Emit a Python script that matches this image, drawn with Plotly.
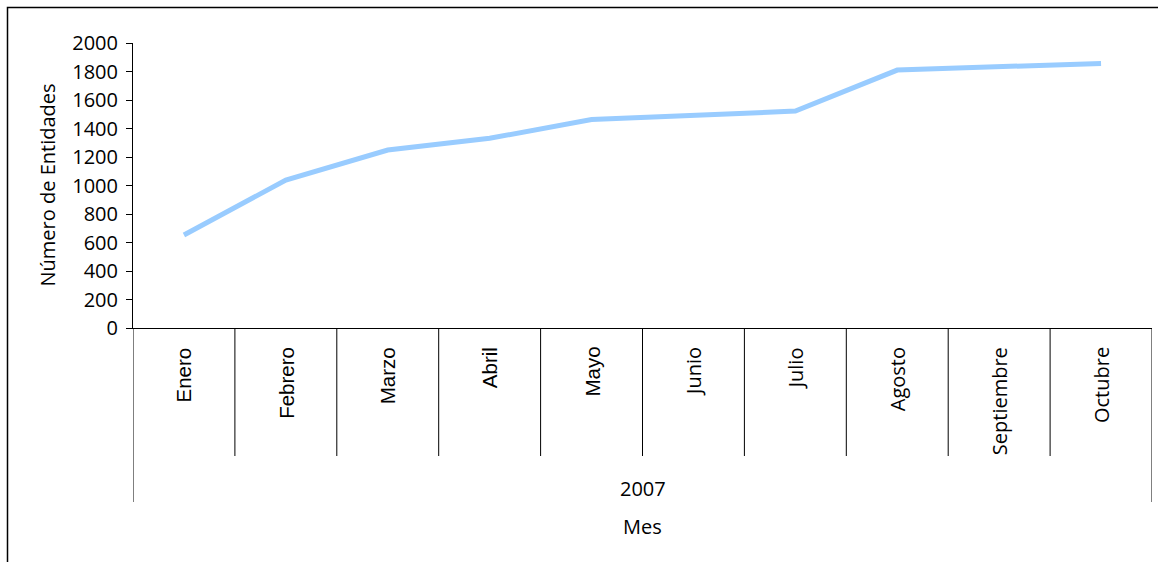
import plotly.graph_objects as go

months = ["Enero", "Febrero", "Marzo", "Abril", "Mayo", "Junio",
          "Julio", "Agosto", "Septiembre", "Octubre"]
year_label = "2007"
entidades = [653, 1038, 1249, 1331, 1463, 1492, 1522, 1810, 1833, 1857]
y_ticks = [0, 200, 400, 600, 800, 1000, 1200, 1400, 1600, 1800, 2000]
y_title = "Número de Entidades"
x_title = "Mes"

W, H = 1158, 562
L, R, T, B = 133, 6, 43, 234
pw, ph = W - L - R, H - T - B

def py(pix):  # pixel y -> paper y
    return (H - B - pix) / ph

def px(pix):  # pixel x -> paper x
    return (pix - L) / pw

fig = go.Figure()
fig.add_trace(go.Scatter(
    x=list(range(len(months))), y=entidades, mode="lines",
    line=dict(color="#99CCFF", width=5), hoverinfo="skip", showlegend=False))

arial = "Liberation Sans, Arial, sans-serif"
tahoma = "Open Sans, Noto Sans, sans-serif"

shapes = []
n = len(months)
for i in range(n + 1):
    outer = i in (0, n)
    shapes.append(dict(type="line", xref="x", yref="paper",
                       x0=i - 0.5, x1=i - 0.5, y0=0, y1=py(502 if outer else 456),
                       line=dict(color="black", width=1)))
# outer chart border (left and top)
shapes.append(dict(type="path", xref="paper", yref="paper",
                   path=f"M {px(7.5)} {py(570)} L {px(7.5)} {py(7.5)} L {px(1165)} {py(7.5)}",
                   line=dict(color="black", width=1.5)))

annotations = []
for i, m in enumerate(months):
    annotations.append(dict(x=i, xref="x", y=py(345), yref="paper", text=m,
                            textangle=-90, showarrow=False, xanchor="center",
                            yanchor="top",
                            font=dict(family=arial if i < 5 else tahoma,
                                      size=20.5 if i < 5 else 20, color="black")))
annotations.append(dict(x=0.5, xref="paper", y=py(488), yref="paper", text=year_label,
                        showarrow=False, xanchor="center", yanchor="middle",
                        font=dict(family=tahoma, size=20, color="black")))
annotations.append(dict(x=0.5, xref="paper", y=py(526), yref="paper", text=x_title,
                        showarrow=False, xanchor="center", yanchor="middle",
                        font=dict(family=tahoma, size=20, color="black")))
annotations.append(dict(x=px(47), xref="paper", y=0.5, yref="paper", text=y_title,
                        textangle=-90, showarrow=False, xanchor="center", yanchor="middle",
                        font=dict(family=tahoma, size=20, color="black")))

fig.update_layout(
    width=W, height=H, autosize=False,
    margin=dict(l=L, r=R, t=T, b=B),
    paper_bgcolor="white", plot_bgcolor="white",
    xaxis=dict(range=[-0.5, n - 0.5], showticklabels=False, showgrid=False,
               zeroline=False, showline=True, linecolor="black", linewidth=1,
               ticks=""),
    yaxis=dict(range=[0, 2000], tickvals=y_ticks, showgrid=False, zeroline=False,
               showline=True, linecolor="black", linewidth=1,
               ticks="outside", ticklen=6, tickcolor="black",
               ticklabelstandoff=4,
               tickfont=dict(family=tahoma, size=20, color="black")),
    shapes=shapes, annotations=annotations,
)

fig.write_html("out.html", config={"displayModeBar": False, "staticPlot": True},
               post_script="document.body.style.margin='0';document.body.style.overflow='hidden';")
